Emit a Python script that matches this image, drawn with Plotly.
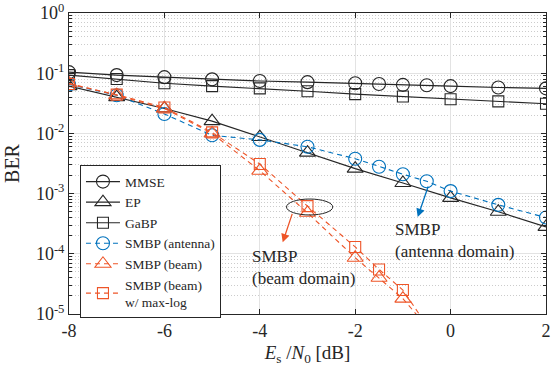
import plotly.graph_objects as go

# ---------------- data ----------------
snr_mmse = [-8, -7, -6, -5, -4, -3, -2, -1.5, -1, -0.5, 0, 1, 2]
ber_mmse = [0.104, 0.093, 0.086, 0.079, 0.074, 0.071, 0.068, 0.066, 0.064, 0.063, 0.061, 0.058, 0.056]

snr_ep = [-8, -7, -6, -5, -4, -3, -2, -1, 0, 1, 2]
ber_ep = [0.061, 0.040, 0.026, 0.016, 0.0087, 0.0048, 0.0026, 0.0015, 0.00085, 0.00050, 0.00028]

snr_gabp = [-8, -7, -6, -5, -4, -3, -2, -1, 0, 1, 2]
ber_gabp = [0.093, 0.080, 0.068, 0.061, 0.056, 0.050, 0.045, 0.041, 0.037, 0.034, 0.031]

snr_ant = [-8, -7, -6, -5, -4, -3, -2, -1.5, -1, -0.5, 0, 1, 2]
ber_ant = [0.065, 0.043, 0.021, 0.0093, 0.0078, 0.0060, 0.0038, 0.0028, 0.0021, 0.0016, 0.0011, 0.00065, 0.00040]

snr_beam = [-8, -7, -6, -5, -4, -3, -2, -1.5, -1, -0.5]
ber_beam = [0.068, 0.043, 0.026, 0.0100, 0.0024, 0.00048, 0.000086, 0.000040, 0.000018, 0.0000062]

snr_beam_ml = [-8, -7, -6, -5, -4, -3, -2, -1.5, -1, -0.5]
ber_beam_ml = [0.066, 0.044, 0.027, 0.0104, 0.0031, 0.00062, 0.00013, 0.000055, 0.000025, 0.0000065]

x_ticks = [-8, -6, -4, -2, 0, 2]
x_tick_text = ["-8", "-6", "-4", "-2", "0", "2"]
y_ticks = [1e-5, 1e-4, 1e-3, 1e-2, 1e-1, 1]
y_tick_text = ["10<sup>-5</sup>", "10<sup>-4</sup>", "10<sup>-3</sup>",
               "10<sup>-2</sup>", "10<sup>-1</sup>", "10<sup>0</sup>"]

BLACK = "#262626"
BLUE = "#0072BD"
RED = "#EE5528"
FONT = "Liberation Serif"

fig = go.Figure()

def add(x, y, name, color, symbol, dash, size):
    fig.add_trace(go.Scatter(
        x=x, y=y, name=name, mode="lines+markers",
        line=dict(color=color, width=1.1, dash=dash),
        marker=dict(symbol=symbol, size=size, color=color,
                    line=dict(color=color, width=1.1)),
    ))

add(snr_mmse, ber_mmse, "MMSE", BLACK, "circle-open", "solid", 13)
add(snr_ep, ber_ep, "EP", BLACK, "triangle-up-open", "solid", 14)
add(snr_gabp, ber_gabp, "GaBP", BLACK, "square-open", "solid", 11)
add(snr_ant, ber_ant, "SMBP (antenna)", BLUE, "circle-open", "5px,4px", 13)
add(snr_beam, ber_beam, "SMBP (beam)", RED, "triangle-up-open", "5px,4px", 14)
add(snr_beam_ml, ber_beam_ml, "SMBP (beam)<br>w/ max-log", RED, "square-open", "5px,4px", 11)

# ellipse around the beam-domain points at -3 dB
fig.add_shape(type="circle", xref="x", yref="y domain",
              x0=-3.44, x1=-2.47, y0=0.329, y1=0.382,
              line=dict(color=BLACK, width=1))

# arrows
fig.add_annotation(x=-3.52, y=-3.81, xref="x", yref="y", ax=10, ay=-30,
                   axref="pixel", ayref="pixel", text="", showarrow=True,
                   arrowhead=2, arrowsize=1.3, arrowwidth=1.3, arrowcolor=RED)
fig.add_annotation(x=-0.69, y=-3.39, xref="x", yref="y", ax=11, ay=-32,
                   axref="pixel", ayref="pixel", text="", showarrow=True,
                   arrowhead=2, arrowsize=1.3, arrowwidth=1.3, arrowcolor=BLUE)

# text labels
fig.add_annotation(x=-4.21, y=0.153, xref="x", yref="y domain",
                   xanchor="left", yanchor="middle", align="left",
                   text="SMBP<br>(beam domain)", showarrow=False,
                   font=dict(family=FONT, size=17, color=BLACK))
fig.add_annotation(x=-1.215, y=0.243, xref="x", yref="y domain",
                   xanchor="left", yanchor="middle", align="left",
                   text="SMBP<br>(antenna domain)", showarrow=False,
                   font=dict(family=FONT, size=17, color=BLACK))

fig.update_layout(
    width=552, height=376,
    margin=dict(l=69, r=6, t=13, b=62, autoexpand=False),
    paper_bgcolor="white", plot_bgcolor="white",
    font=dict(family=FONT, size=17, color=BLACK),
    legend=dict(x=0.023, y=0.494, xanchor="left", yanchor="top",
                bgcolor="white", bordercolor=BLACK, borderwidth=1,
                font=dict(family=FONT, size=13.5, color=BLACK),
                tracegroupgap=0, itemwidth=34),
    showlegend=True,
)

fig.update_xaxes(
    range=[-8, 2], tickvals=x_ticks, ticktext=x_tick_text, automargin=False,
    ticklabeloverflow="allow",
    showline=True, linecolor=BLACK, linewidth=1, mirror="allticks",
    ticks="inside", ticklen=5, tickcolor=BLACK,
    showgrid=True, gridcolor="#e3e3e3", gridwidth=1, zeroline=False,
    tickfont=dict(family=FONT, size=18, color=BLACK),
    title=dict(text="<i>E</i><sub>s</sub> /<i>N</i><sub>0</sub> [dB]",
               font=dict(family=FONT, size=19, color=BLACK), standoff=6),
)
fig.update_yaxes(
    type="log", range=[-5, 0], tickvals=y_ticks, ticktext=y_tick_text, automargin=False,
    ticklabeloverflow="allow",
    showline=True, linecolor=BLACK, linewidth=1, mirror="allticks",
    ticks="inside", ticklen=5, tickcolor=BLACK,
    showgrid=True, gridcolor="#e3e3e3", gridwidth=1, zeroline=False,
    minor=dict(dtick="D1", ticks="inside", ticklen=3, tickcolor=BLACK,
               showgrid=True, gridcolor="#cccccc", griddash="1px,2px", gridwidth=1),
    tickfont=dict(family=FONT, size=18, color=BLACK),
    title=dict(text="BER", font=dict(family=FONT, size=20, color=BLACK), standoff=10),
)

# remove the default 8px page margin so the figure fills the window exactly
fig.write_html("out.html", config={"displayModeBar": False},
               post_script="document.body.style.margin='0';document.body.style.overflow='hidden';")
